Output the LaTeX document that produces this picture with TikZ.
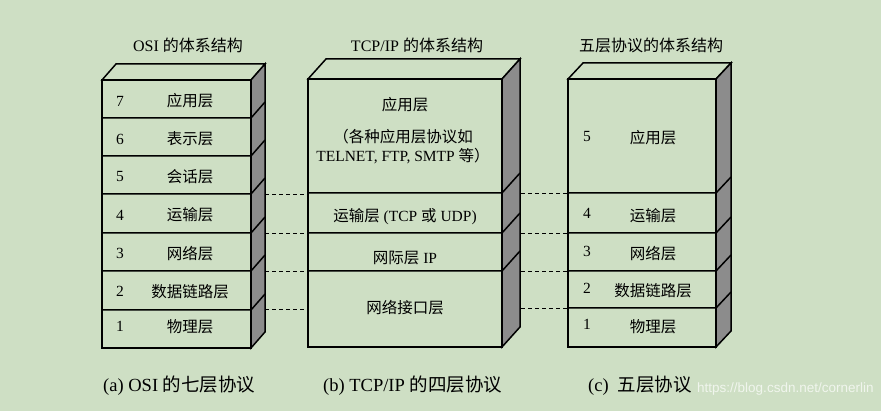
\documentclass[tikz,border=0pt]{standalone}
\usepackage{fontspec}
\setmainfont{Liberation Serif}
\newfontfamily\cjk{Noto Sans CJK SC}
\newfontfamily\wmfont{Liberation Sans}
\definecolor{bg}{RGB}{206,223,196}
\definecolor{sidegray}{RGB}{140,140,140}
\newcommand\layerstack[7]{%
  \filldraw[edge, fill=bg] (#1,#3) -- (#1+#5,#3-#6) -- (#2+#5,#3-#6) -- (#2,#3) -- cycle;
  \filldraw[edge, fill=sidegray] (#2,#3) -- (#2+#5,#3-#6) -- (#2+#5,#4-#6) -- (#2,#4) -- cycle;
  \draw[edge] (#1,#3) rectangle (#2,#4);
  \foreach \yy in {#7} { \draw[edge] (#1,\yy) -- (#2,\yy) -- (#2+#5,\yy-#6); }
}
\tikzset{
  edge/.style={line width=1.5pt, line join=miter},
  dash line/.style={dash pattern=on 4pt off 3pt, line width=0.9pt},
  lbl/.style={font=\fontsize{15.5}{17.5}\selectfont, inner sep=0pt, align=center},
  ttl/.style={font=\fontsize{16}{19}\selectfont, inner sep=0pt},
  captext/.style={font=\fontsize{18.5}{21}\selectfont, inner sep=0pt, anchor=west},
}
\begin{document}
\begin{tikzpicture}[x=1pt,y=-1pt]
\fill[bg] (0,0) rectangle (881,411);
\useasboundingbox (0,0) rectangle (881,411);

% titles
\node[ttl] (t1) at (188,45) {OSI {\cjk 的体系结构}};
\node[ttl] (t2) at (417,45) {TCP/IP {\cjk 的体系结构}};
\node[ttl] (t3) at (651,45) {\cjk 五层协议的体系结构};

% stacks
\layerstack{102}{251}{80}{348}{14}{16}{118,156,194,233,271,310}
\layerstack{308}{502}{79}{347}{18}{20}{193,233,271}
\layerstack{568}{716}{79}{347}{15}{16}{193,233,271,308}

% OSI labels
\node[lbl] (n7) at (120,101) {7}; \node[lbl] (l7) at (190,101) {\cjk 应用层};
\node[lbl] (n6) at (120,139) {6}; \node[lbl] (l6) at (190,139) {\cjk 表示层};
\node[lbl] (n5) at (120,177) {5}; \node[lbl] (l5) at (190,177) {\cjk 会话层};
\node[lbl] (n4) at (120,215) {4}; \node[lbl] (l4) at (190,215) {\cjk 运输层};
\node[lbl] (n3) at (120,253) {3}; \node[lbl] (l3) at (190,254) {\cjk 网络层};
\node[lbl] (n2) at (120,291) {2}; \node[lbl] (l2) at (190,292) {\cjk 数据链路层};
\node[lbl] (n1) at (120,326) {1}; \node[lbl] (l1) at (190,327) {\cjk 物理层};

% TCP/IP labels
\node[lbl] (ta) at (405,105) {\cjk 应用层};
\node[lbl] (tb) at (403,137) {\cjk （各种应用层协议如};
\node[lbl] (tc) at (403,156) {TELNET, FTP, SMTP {\cjk 等）}};
\node[lbl] (tt) at (405,217) {{\cjk 运输层} (TCP {\cjk 或} UDP)};
\node[lbl] (ti) at (405,258) {{\cjk 网际层} IP};
\node[lbl] (tl) at (405,308) {\cjk 网络接口层};

% five-layer labels
\node[lbl] (f5) at (587,137) {5}; \node[lbl] (g5) at (653,138) {\cjk 应用层};
\node[lbl] (f4) at (587,213) {4}; \node[lbl] (g4) at (653,216) {\cjk 运输层};
\node[lbl] (f3) at (587,251) {3}; \node[lbl] (g3) at (653,254) {\cjk 网络层};
\node[lbl] (f2) at (587,288) {2}; \node[lbl] (g2) at (653,291) {\cjk 数据链路层};
\node[lbl] (f1) at (587,324) {1}; \node[lbl] (g1) at (653,327) {\cjk 物理层};

% dashed connectors
\coordinate (oa) at (265,194); \coordinate (ta1) at (308,194);
\coordinate (ob) at (265,233); \coordinate (tb1) at (308,233);
\coordinate (oc) at (265,271); \coordinate (tc1) at (308,271);
\coordinate (od) at (265,309); \coordinate (td1) at (308,309);
\draw[dash line] (oa) -- (ta1);
\draw[dash line] (ob) -- (tb1);
\draw[dash line] (oc) -- (tc1);
\draw[dash line] (od) -- (td1);
\coordinate (pa) at (521,193); \coordinate (fa) at (568,193);
\coordinate (pb) at (521,233); \coordinate (fb) at (568,233);
\coordinate (pc) at (521,271); \coordinate (fc) at (568,271);
\coordinate (pd) at (521,308); \coordinate (fd) at (568,308);
\draw[dash line] (pa) -- (fa);
\draw[dash line] (pb) -- (fb);
\draw[dash line] (pc) -- (fc);
\draw[dash line] (pd) -- (fd);

% captions
\node[captext] (ca) at (103,386) {(a) OSI {\cjk 的七层协议}};
\node[captext] (cb) at (323,386) {(b) TCP/IP {\cjk 的四层协议}};
\node[captext] (cc) at (588,386) {(c)\ \ {\cjk 五层协议}};
\node[font=\wmfont\fontsize{13.5}{16}\selectfont, text=white, opacity=0.7, anchor=west, inner sep=0pt] (wm) at (697,389) {https://blog.csdn.net/cornerlin};
\end{tikzpicture}
\end{document}
